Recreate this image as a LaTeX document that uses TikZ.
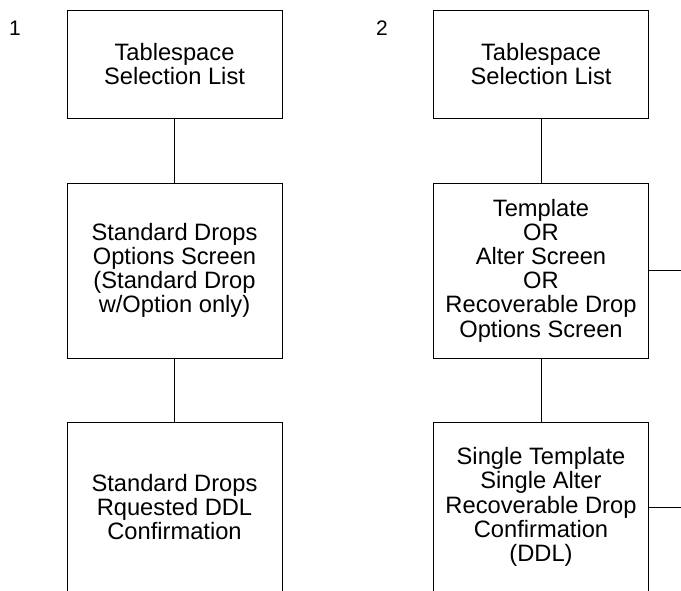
\documentclass[tikz,border=0pt]{standalone}
\usepackage{fontspec}
\setmainfont{Liberation Sans}

\tikzset{
  screen/.style={draw, line width=1pt, minimum width=215pt, align=center,
    inner sep=0pt, font=\fontsize{23.7}{24.2}\selectfont},
  num/.style={font=\fontsize{21}{24}\selectfont},
  link/.style={line width=1pt},
}

\begin{document}
\begin{tikzpicture}[x=1pt, y=-1pt]

  \clip (0,0) rectangle (681,590);

  % ── Flow 1: standard drops ────────────────────────────────────────────
  \node[num] (n1) at (15,28) {1};

  \node[screen, minimum height=108pt] (ts1) at (174.5,64)
    {Tablespace\\Selection List};
  \node[screen, minimum height=175pt] (opt1) at (174.5,270.5)
    {Standard Drops\\Options Screen\\(Standard Drop\\w/Option only)};
  % open at the bottom: runs past the page edge
  \node[screen, minimum height=170pt] (ddl1) at (174.5,507)
    {Standard Drops\\Rquested DDL\\Confirmation};

  \draw[link] (ts1) -- (opt1);
  \draw[link] (opt1) -- (ddl1);

  % ── Flow 2: template / alter / recoverable drop ───────────────────────
  \node[num] (n2) at (382,28) {2};

  \node[screen, minimum height=108pt] (ts2) at (541,64)
    {Tablespace\\Selection List};
  \node[screen, minimum height=175pt] (alt2) at (541,270.5)
    {Template\\OR\\Alter Screen\\OR\\Recoverable Drop\\Options Screen};
  \node[screen, minimum height=170pt] (ddl2) at (541,507)
    {Single Template\\Single Alter\\Recoverable Drop\\Confirmation\\(DDL)};

  \draw[link] (ts2) -- (alt2);
  \draw[link] (alt2) -- (ddl2);

  % branches leaving to the right
  \coordinate (out2) at (681,270.5);
  \coordinate (out3) at (681,507);
  \draw[link] (alt2.east) -- (out2);
  \draw[link] (ddl2.east) -- (out3);

\end{tikzpicture}
\end{document}
